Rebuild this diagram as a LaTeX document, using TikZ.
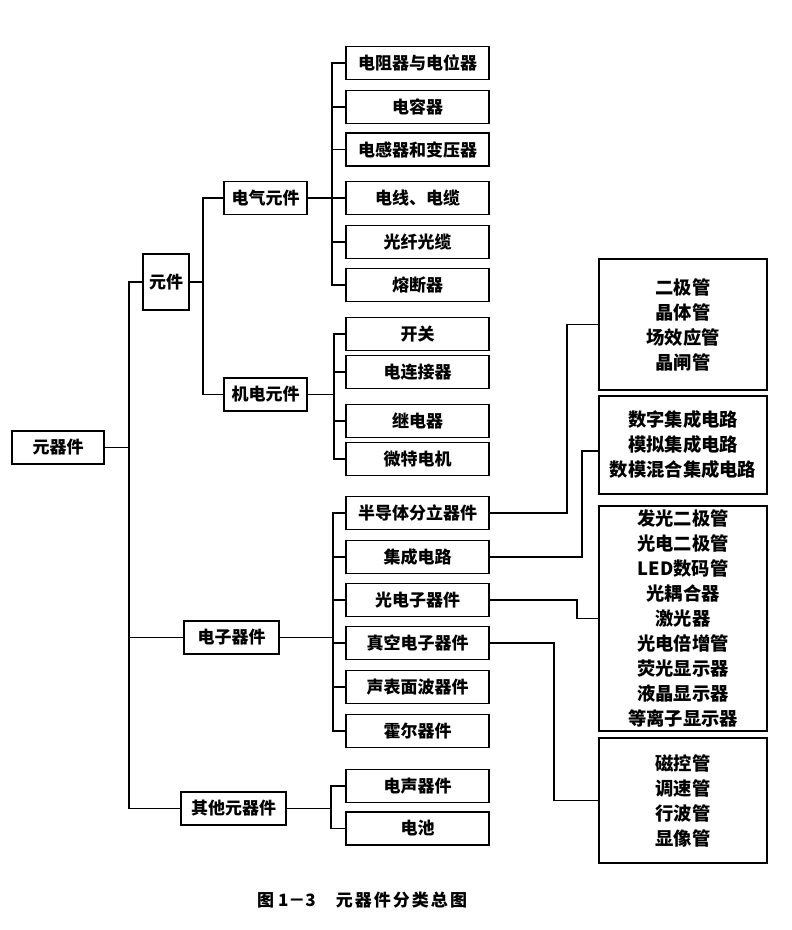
\documentclass[tikz,border=0pt]{standalone}
\usepackage{fontspec}
\setmainfont{Noto Sans CJK SC}
\usetikzlibrary{calc}
\begin{document}
\begin{tikzpicture}[x=1pt,y=-1pt,
  box/.style={draw,line width=1.5pt,inner sep=0pt,minimum height=33pt,font=\bfseries\fontsize{17}{20}\selectfont},
  leaf/.style={box,minimum width=143pt},
  group/.style={draw,line width=1.5pt,inner sep=0pt,minimum width=168pt,align=center,font=\bfseries\fontsize{18.3}{25}\selectfont},
  conn/.style={line width=1.5pt}]
\useasboundingbox (0,0) rectangle (792,930);
% level 0-1
\node[box,minimum width=92pt] (root) at (58,447.5) {元器件};
\node[box,minimum width=46pt,minimum height=56pt] (yj) at (166,282) {元件};
\node[box,minimum width=95pt] (dz) at (231.5,637.5) {电子器件};
\node[box,minimum width=105pt] (qt) at (233.5,808.5) {其他元器件};
% level 2
\node[box,minimum width=83pt] (dq) at (265.5,198) {电气元件};
\node[box,minimum width=83pt] (jd) at (265.5,394.5) {机电元件};
% leaves
\node[leaf] (e1) at (417.5,63) {电阻器与电位器};
\node[leaf] (e2) at (417.5,107) {电容器};
\node[leaf] (e3) at (417.5,149.5) {电感器和变压器};
\node[leaf] (e4) at (417.5,198) {电线、电缆};
\node[leaf] (e5) at (417.5,242) {光纤光缆};
\node[leaf] (e6) at (417.5,285) {熔断器};
\node[leaf] (m1) at (417.5,334) {开关};
\node[leaf] (m2) at (417.5,372) {电连接器};
\node[leaf] (m3) at (417.5,421) {继电器};
\node[leaf] (m4) at (417.5,459) {微特电机};
\node[leaf] (d1) at (417.5,513) {半导体分立器件};
\node[leaf] (d2) at (417.5,557) {集成电路};
\node[leaf] (d3) at (417.5,600) {光电子器件};
\node[leaf] (d4) at (417.5,643) {真空电子器件};
\node[leaf] (d5) at (417.5,687) {声表面波器件};
\node[leaf] (d6) at (417.5,731) {霍尔器件};
\node[leaf] (o1) at (417.5,786) {电声器件};
\node[leaf] (o2) at (417.5,828.5) {电池};
% groups on the right
\node[group,minimum height=131pt] (A) at (683,324.5) {二极管\\晶体管\\场效应管\\晶闸管};
\node[group,minimum height=98pt] (B) at (683,445) {数字集成电路\\模拟集成电路\\数模混合集成电路};
\node[group,minimum height=225pt] (C) at (683,618.5) {发光二极管\\光电二极管\\LED数码管\\光耦合器\\激光器\\光电倍增管\\荧光显示器\\液晶显示器\\等离子显示器};
\node[group,minimum height=125pt] (D) at (683,800.5) {磁控管\\调速管\\行波管\\显像管};
% connectors
\foreach \c in {yj,dz,qt} \draw[conn] (root.east) -- ++(24,0) |- (\c.west);
\foreach \c in {dq,jd} \draw[conn] (yj.east) -- ++(13,0) |- (\c.west);
\foreach \c in {e1,e2,e3,e4,e5,e6} \draw[conn] (dq.east) -- ++(24,0) |- (\c.west);
\foreach \c in {m1,m2,m3,m4} \draw[conn] (jd.east) -- ++(26,0) |- (\c.west);
\foreach \c in {d1,d2,d3,d4,d5,d6} \draw[conn] (dz.east) -- ++(53,0) |- (\c.west);
\foreach \c in {o1,o2} \draw[conn] (qt.east) -- ++(44,0) |- (\c.west);
\draw[conn] (d1.east) -- ++(77,0) |- (A.west);
\draw[conn] (d2.east) -- ++(92,0) |- ([yshift=-6pt]B.west);
\draw[conn] (d3.east) -- ++(87,0) |- (C.west);
\draw[conn] (d4.east) -- ++(64,0) |- (D.west);
% caption
\node[anchor=west,inner sep=0pt,font=\bfseries\fontsize{17}{17}\selectfont] (cap) at (257,900) {图 1－3\hspace{20pt}{\addfontfeature{LetterSpace=12}元器件分类总图}};
\end{tikzpicture}
\end{document}
